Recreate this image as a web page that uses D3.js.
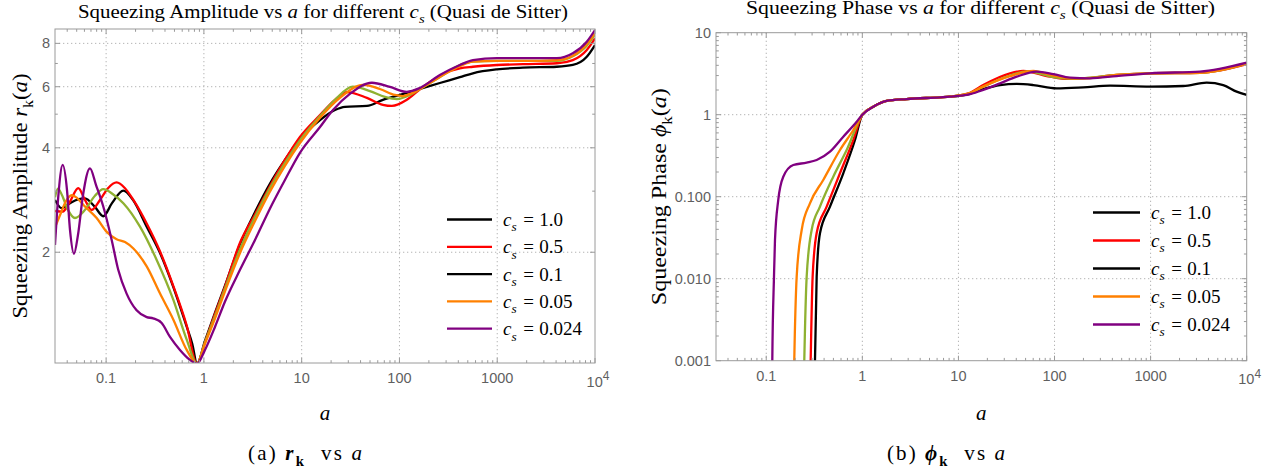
<!DOCTYPE html>
<html>
<head>
<meta charset="utf-8">
<script src="https://cdn.jsdelivr.net/npm/d3@7"></script>
<style>
  body { margin: 0; background: #fff; }
  text { white-space: pre; }
</style>
</head>
<body>
<svg id="fig" width="1282" height="472"></svg>
<script>
// ---- sound speeds, colours, ticks ----
const soundSpeeds = ["1.0", "0.5", "0.1", "0.05", "0.024"];
const lineColors  = ["#000000", "#ff0000", "#8fb131", "#ff8000", "#800080"];
const legendColors = ["#000000", "#ff0000", "#000000", "#ff8000", "#800080"];

const aMajorTicks = [0.1, 1, 10, 100, 1000, 10000];
const aTickLabels = ["0.1", "1", "10", "100", "1000", "10^4"];
const ampMajorTicks = [2, 4, 6, 8];
const ampMinorTicks = [3, 5, 7];
const ampTickLabels = ["2", "4", "6", "8"];
const phaseMajorTicks = [0.001, 0.01, 0.1, 1, 10];
const phaseTickLabels = ["0.001", "0.010", "0.100", "1", "10"];

// ---- squeezing amplitude r_k(a), one array per c_s ----
const amp_cs1 = [[0.030,2.83],[0.0351,2.68],[0.0427,2.77],[0.0515,2.84],[0.0608,2.86],[0.0769,2.70],[0.0935,2.54],[0.1148,2.77],[0.150,3.01],[0.188,2.83],[0.260,2.37],[0.356,1.99],[0.486,1.59],[0.667,1.22],[0.76,1.09],[0.85,0.955],[1.025,1.11],[1.30,1.34],[1.64,1.60],[2.34,2.11],[3.33,2.61],[4.73,3.15],[6.74,3.69],[9.6,4.24],[15.4,4.81],[21.9,5.14],[27.7,5.25],[46.5,5.28],[67.7,5.50],[101,5.68],[162,5.91],[259,6.15],[415,6.39],[564,6.56],[991,6.73],[1828,6.81],[4074,6.85],[5930,6.93],[8240,7.32],[10000,7.91]];
const amp_cs05 = [[0.030,2.63],[0.036,2.62],[0.0427,2.80],[0.0519,3.06],[0.0608,2.83],[0.0712,2.65],[0.0865,2.83],[0.1045,3.06],[0.128,3.18],[0.156,3.06],[0.190,2.83],[0.260,2.42],[0.356,2.01],[0.486,1.60],[0.667,1.23],[0.85,0.955],[1.025,1.10],[1.30,1.33],[1.64,1.59],[2.34,2.13],[3.33,2.57],[4.73,3.10],[6.74,3.69],[9.6,4.30],[15.4,4.97],[21.9,5.50],[29.0,5.79],[46.5,5.57],[67.7,5.32],[83.7,5.28],[119,5.50],[162,5.90],[220,6.27],[292,6.57],[415,6.78],[564,6.85],[991,6.93],[1828,6.97],[4074,7.01],[5930,7.16],[8240,7.66],[10000,8.27]];
const amp_cs01 = [[0.030,2.88],[0.0322,3.05],[0.0354,2.92],[0.0407,2.65],[0.048,2.51],[0.0608,2.65],[0.0769,2.91],[0.0935,3.04],[0.1175,2.94],[0.150,2.77],[0.222,2.37],[0.329,1.90],[0.486,1.46],[0.667,1.12],[0.85,0.955],[1.025,1.10],[1.30,1.31],[1.64,1.57],[2.34,2.04],[3.33,2.53],[4.73,3.06],[6.74,3.62],[9.6,4.21],[15.4,4.94],[21.9,5.50],[33.4,6.00],[49.9,5.83],[71,5.61],[94.2,5.53],[128,5.68],[162,5.91],[259,6.40],[415,6.93],[564,7.09],[991,7.12],[4074,7.12],[5930,7.34],[8240,7.88],[10000,8.48]];
const amp_cs005 = [[0.030,2.36],[0.0338,2.56],[0.0389,2.81],[0.0444,2.92],[0.0503,2.87],[0.0583,2.74],[0.080,2.51],[0.1014,2.29],[0.128,2.18],[0.156,2.14],[0.190,2.05],[0.260,1.82],[0.356,1.52],[0.486,1.28],[0.667,1.046],[0.85,0.955],[1.025,1.09],[1.30,1.29],[1.64,1.54],[2.34,1.99],[3.33,2.46],[4.73,2.99],[6.74,3.55],[9.6,4.13],[15.4,4.88],[24.6,5.57],[42.3,6.07],[63,5.91],[89.9,5.68],[108,5.64],[134,5.75],[162,5.91],[259,6.40],[415,6.88],[564,7.09],[991,7.12],[1828,7.12],[4074,7.16],[5930,7.37],[8240,7.96],[10000,8.55]];
const amp_cs0024 = [[0.030,2.10],[0.0322,2.83],[0.036,3.57],[0.0398,3.02],[0.0427,2.32],[0.0469,1.98],[0.0515,2.24],[0.058,2.92],[0.0684,3.49],[0.0787,3.13],[0.0935,2.71],[0.114,2.17],[0.133,1.78],[0.162,1.52],[0.205,1.36],[0.260,1.30],[0.303,1.29],[0.370,1.25],[0.450,1.14],[0.569,1.046],[0.720,0.979],[0.85,0.955],[1.025,1.046],[1.30,1.22],[1.64,1.44],[2.34,1.78],[3.33,2.17],[4.73,2.67],[6.74,3.23],[9.6,3.87],[15.4,4.59],[20.9,5.14],[31.1,5.72],[52.3,6.16],[80,5.99],[119,5.80],[162,5.95],[259,6.48],[415,6.93],[564,7.16],[991,7.25],[1828,7.25],[4074,7.25],[5930,7.49],[8240,8.09],[10000,8.74]];

// ---- squeezing phase phi_k(a), one array per c_s ----
const phase_cs1 = [[0.3177,0.0004],[0.3215,0.001],[0.3348,0.0106],[0.3623,0.0358],[0.4606,0.0755],[0.6335,0.193],[0.838,0.491],[1.0,1.0],[1.30,1.25],[1.79,1.47],[2.89,1.55],[6.43,1.63],[8.17,1.66],[13.2,1.80],[18.1,2.05],[27.1,2.30],[40.4,2.37],[60,2.30],[105,2.10],[199,2.16],[378,2.26],[984,2.20],[2186,2.24],[3830,2.46],[5700,2.30],[7860,1.91],[10000,1.74]];
const phase_cs05 = [[0.286,0.0004],[0.290,0.001],[0.304,0.0106],[0.3348,0.0361],[0.4255,0.0755],[0.585,0.193],[0.805,0.491],[1.0,1.0],[1.30,1.25],[1.79,1.47],[2.89,1.55],[6.43,1.63],[8.17,1.66],[13.2,1.85],[18.1,2.30],[34.4,3.20],[47.3,3.41],[89.7,2.91],[133.8,2.73],[199,2.78],[443,3.05],[984,3.20],[3262,3.25],[10000,4.15]];
const phase_cs01 = [[0.245,0.0004],[0.2488,0.001],[0.2635,0.0106],[0.297,0.0393],[0.3623,0.0755],[0.4984,0.1754],[0.687,0.371],[1.0,1.0],[1.30,1.25],[1.79,1.47],[2.89,1.55],[6.43,1.63],[8.17,1.66],[13.2,1.83],[18.1,2.2],[34.4,3.0],[52,3.38],[100,2.85],[150,2.75],[199,2.78],[443,3.05],[984,3.2],[3262,3.25],[10000,4.2]];
const phase_cs005 = [[0.193,0.0004],[0.1957,0.001],[0.2074,0.0106],[0.2338,0.0393],[0.285,0.0831],[0.392,0.16],[0.585,0.371],[0.805,0.651],[1.0,1.0],[1.30,1.25],[1.79,1.47],[2.89,1.55],[6.43,1.63],[8.17,1.66],[13.2,1.83],[18.1,2.2],[34.4,2.95],[60.1,3.41],[97,3.0],[144.8,2.78],[234,2.8],[443,3.05],[984,3.2],[3262,3.25],[10000,4.2]];
const phase_cs0024 = [[0.1148,0.0004],[0.1156,0.001],[0.1204,0.0106],[0.1233,0.0296],[0.1334,0.0912],[0.1504,0.1754],[0.191,0.2435],[0.2635,0.26],[0.3348,0.28],[0.4606,0.354],[0.6335,0.539],[0.873,0.821],[1.0,1.0],[1.30,1.25],[1.79,1.47],[2.89,1.55],[6.43,1.63],[8.17,1.66],[13.2,1.78],[18.1,2.0],[27.1,2.41],[40.4,2.91],[65.2,3.35],[97,3.13],[144.8,2.83],[234,2.78],[443,2.96],[984,3.2],[3262,3.35],[10000,4.31]];

const ampSeries = [amp_cs1, amp_cs05, amp_cs01, amp_cs005, amp_cs0024];
const phaseSeries = [phase_cs1, phase_cs05, phase_cs01, phase_cs005, phase_cs0024];

// ---- drawing ----
const svg = d3.select("#fig");
const SERIF = "'Liberation Serif', 'DejaVu Serif', serif";
const SANS = "'Liberation Sans', Arial, sans-serif";
const FRAME = "#9a9a9a";
const LABEL = "#5f5f5f";

// append text made of plain / italic / bold / sub / sup pieces
function rich(sel, parts, size) {
  let shift = 0;
  parts.forEach(p => {
    const ts = sel.append("tspan").text(p.t);
    const target = p.sub ? size * 0.28 : p.sup ? -size * 0.42 : 0;
    if (target !== shift) ts.attr("dy", target - shift);
    shift = target;
    if (p.dx) ts.attr("dx", p.dx);
    if (p.sub || p.sup) ts.attr("font-size", p.fs || size * 0.7);
    if (p.i) ts.attr("font-style", "italic");
    if (p.b) ts.attr("font-weight", "bold");
  });
  return sel;
}

// minor ticks 2..9 per decade inside a log domain
function logMinor(domain) {
  const out = [];
  for (let e = -4; e <= 4; e++) {
    for (let m = 2; m <= 9; m++) {
      const v = m * Math.pow(10, e);
      if (v > domain[0] * 1.0001 && v < domain[1] * 0.9999) out.push(v);
    }
  }
  return out;
}

function panel(cfg) {
  const x = d3.scaleLog().domain([0.03, 1e4]).range([cfg.left, cfg.right]);
  const y = d3.scaleLog().domain(cfg.yDomain).range([cfg.bottom, cfg.top]);
  const g = svg.append("g");

  // dotted grid
  const grid = g.append("g").attr("stroke", "#b4b4b4").attr("stroke-width", 1)
    .attr("stroke-dasharray", "1.3,2.7");
  aMajorTicks.filter(v => v < 1e4).forEach(v => {
    grid.append("line").attr("x1", x(v)).attr("x2", x(v))
      .attr("y1", cfg.top).attr("y2", cfg.bottom);
  });
  cfg.yGrid.forEach(v => {
    grid.append("line").attr("x1", cfg.left).attr("x2", cfg.right)
      .attr("y1", y(v)).attr("y2", y(v));
  });

  // curves
  const clipId = "clip" + cfg.id;
  svg.append("clipPath").attr("id", clipId).append("rect")
    .attr("x", cfg.left).attr("y", cfg.top)
    .attr("width", cfg.right - cfg.left).attr("height", cfg.bottom - cfg.top);
  const line = d3.line().x(d => x(d[0])).y(d => y(d[1])).curve(d3.curveMonotoneX);
  const curves = g.append("g").attr("clip-path", `url(#${clipId})`);
  cfg.series.forEach((s, i) => {
    curves.append("path").datum(s).attr("d", line)
      .attr("fill", "none").attr("stroke", lineColors[i])
      .attr("stroke-width", 2.3).attr("stroke-linejoin", "round");
  });

  // frame and ticks (inward, on all four sides)
  const fr = g.append("g").attr("stroke", FRAME).attr("stroke-width", 1);
  fr.append("rect").attr("x", cfg.left).attr("y", cfg.top)
    .attr("width", cfg.right - cfg.left).attr("height", cfg.bottom - cfg.top)
    .attr("fill", "none");
  const xTick = (v, len) => {
    fr.append("line").attr("x1", x(v)).attr("x2", x(v)).attr("y1", cfg.bottom).attr("y2", cfg.bottom - len);
    fr.append("line").attr("x1", x(v)).attr("x2", x(v)).attr("y1", cfg.top).attr("y2", cfg.top + len);
  };
  const yTick = (v, len) => {
    fr.append("line").attr("y1", y(v)).attr("y2", y(v)).attr("x1", cfg.left).attr("x2", cfg.left + len);
    fr.append("line").attr("y1", y(v)).attr("y2", y(v)).attr("x1", cfg.right).attr("x2", cfg.right - len);
  };
  aMajorTicks.forEach(v => xTick(v, 5));
  logMinor([0.03, 1e4]).forEach(v => xTick(v, 2.8));
  cfg.yMajor.forEach(v => yTick(v, 5));
  cfg.yMinor.forEach(v => yTick(v, 2.8));

  // tick labels
  const tl = g.append("g").attr("font-family", SANS).attr("font-size", 14.5).attr("fill", LABEL);
  aMajorTicks.forEach((v, i) => {
    const lab = aTickLabels[i];
    if (lab.includes("^")) {
      const [b, e] = lab.split("^");
      const t = tl.append("text").attr("x", x(v) + 3).attr("y", cfg.bottom + 23.5)
        .attr("text-anchor", "middle");
      t.append("tspan").text(b);
      t.append("tspan").text(e).attr("dy", -6.5).attr("font-size", 12);
    } else {
      tl.append("text").attr("x", x(v)).attr("y", cfg.bottom + 20.3)
        .attr("text-anchor", "middle").text(lab);
    }
  });
  cfg.yMajor.forEach((v, i) => {
    tl.append("text").attr("x", cfg.left - 5).attr("y", y(v) + 5)
      .attr("text-anchor", "end").text(cfg.yLabels[i]);
  });

  // title
  const title = svg.append("text").attr("x", cfg.titleX).attr("y", cfg.titleY)
    .attr("text-anchor", "middle").attr("font-family", SERIF).attr("font-size", 18.5)
    .attr("textLength", cfg.titleW).attr("lengthAdjust", "spacingAndGlyphs");
  rich(title, cfg.title, 18.5);

  // y-axis label
  const yl = svg.append("text")
    .attr("transform", `translate(${cfg.yLabX},${(cfg.top + cfg.bottom) / 2}) rotate(-90)`)
    .attr("text-anchor", "middle").attr("font-family", SERIF).attr("font-size", 20)
    .attr("textLength", cfg.yLabW).attr("lengthAdjust", "spacingAndGlyphs");
  rich(yl, cfg.yLabel, 20);

  // x-axis label
  svg.append("text").attr("x", (cfg.left + cfg.right) / 2).attr("y", 420)
    .attr("text-anchor", "middle").attr("font-family", SERIF).attr("font-size", 21)
    .attr("font-style", "italic").text("a");

  // caption
  const cap = svg.append("text").attr("x", cfg.capX).attr("y", 460)
    .attr("text-anchor", "middle").attr("font-family", SERIF).attr("font-size", 21)
    .attr("textLength", cfg.capW).attr("lengthAdjust", "spacing");
  rich(cap, cfg.caption, 21);

  // legend
  const lg = svg.append("g");
  soundSpeeds.forEach((c, i) => {
    const ry = cfg.legY + i * cfg.legStep;
    lg.append("line").attr("x1", cfg.legX).attr("x2", cfg.legX + cfg.legLen)
      .attr("y1", ry).attr("y2", ry).attr("stroke", legendColors[i]).attr("stroke-width", 2.3);
    const t = lg.append("text").attr("x", cfg.legX + cfg.legLen + 11).attr("y", ry + 6.5)
      .attr("font-family", SERIF).attr("font-size", 19);
    rich(t, [{ t: "c", i: true }, { t: "s", sub: true, i: true },
             { t: "=", dx: 6.5 }, { t: c, dx: 5.5 }], 19);
  });
}

panel({
  id: "A", left: 55, right: 595, top: 29, bottom: 363,
  yDomain: [0.959, 8.8], yGrid: ampMajorTicks, yMajor: ampMajorTicks,
  yMinor: ampMinorTicks, yLabels: ampTickLabels, series: ampSeries,
  title: [{ t: "Squeezing Amplitude vs " }, { t: "a", i: true }, { t: " for different " },
          { t: "c", i: true }, { t: "s", sub: true, i: true }, { t: " (Quasi de Sitter)" }],
  titleX: 323, titleY: 17.5, titleW: 490,
  yLabel: [{ t: "Squeezing Amplitude " }, { t: "r", i: true }, { t: "k", sub: true },
           { t: "(" }, { t: "a", i: true }, { t: ")" }],
  yLabX: 27, yLabW: 245,
  caption: [{ t: "(a) " }, { t: "r", i: true, b: true }, { t: "k", sub: true, b: true },
            { t: "  vs " }, { t: "a", i: true }],
  capX: 305, capW: 114,
  legX: 447, legLen: 45, legY: 219.5, legStep: 27.3
});

panel({
  id: "B", left: 716, right: 1246.7, top: 32.7, bottom: 360.7,
  yDomain: [0.001, 10], yGrid: [0.01, 0.1, 1], yMajor: phaseMajorTicks,
  yMinor: logMinor([0.001, 10]), yLabels: phaseTickLabels, series: phaseSeries,
  title: [{ t: "Squeezing Phase vs " }, { t: "a", i: true }, { t: " for different " },
          { t: "c", i: true }, { t: "s", sub: true, i: true }, { t: " (Quasi de Sitter)" }],
  titleX: 980.5, titleY: 14, titleW: 469,
  yLabel: [{ t: "Squeezing Phase " }, { t: "ϕ", i: true }, { t: "k", sub: true },
           { t: "(" }, { t: "a", i: true }, { t: ")" }],
  yLabX: 666, yLabW: 217,
  caption: [{ t: "(b) " }, { t: "ϕ", i: true, b: true }, { t: "k", sub: true, b: true },
            { t: "  vs " }, { t: "a", i: true }],
  capX: 946, capW: 118,
  legX: 1093, legLen: 47, legY: 212.5, legStep: 28
});
</script>
</body>
</html>
